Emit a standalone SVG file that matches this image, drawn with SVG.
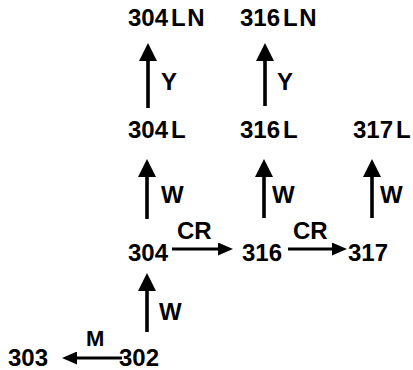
<svg xmlns="http://www.w3.org/2000/svg" width="413" height="370" viewBox="0 0 413 370">
<defs>
<style>
text{font-family:"Liberation Sans",Arial,sans-serif;font-weight:bold;font-size:24px;fill:#000}
.lbl{font-size:24px}
.m{font-size:22px}
.sfx{letter-spacing:1.5px}
.v{stroke:#000;stroke-width:3.6;fill:none}
.h{stroke:#000;stroke-width:3;fill:none}
</style>
<marker id="hv" markerUnits="userSpaceOnUse" markerWidth="18" markerHeight="18" refX="1" refY="9" orient="auto"><path d="M0,0 L18,9 L0,18 z" fill="#000"/></marker>
<marker id="hh" markerUnits="userSpaceOnUse" markerWidth="15" markerHeight="13" refX="1" refY="6.5" orient="auto"><path d="M0,0 L15,6.5 L0,13 z" fill="#000"/></marker>
</defs>
<rect width="413" height="370" fill="#fff"/>
<g id="connectors">
<line class="v" x1="148" y1="108" x2="148" y2="60" marker-end="url(#hv)"/>
<line class="v" x1="265" y1="106" x2="265" y2="60" marker-end="url(#hv)"/>
<line class="v" x1="147" y1="219" x2="147" y2="176" marker-end="url(#hv)"/>
<line class="v" x1="264" y1="218" x2="264" y2="176" marker-end="url(#hv)"/>
<line class="v" x1="372" y1="218" x2="372" y2="176" marker-end="url(#hv)"/>
<line class="v" x1="147" y1="332" x2="147" y2="290" marker-end="url(#hv)"/>
<line class="h" x1="172" y1="249" x2="219" y2="249" marker-end="url(#hh)"/>
<line class="h" x1="288" y1="249" x2="333" y2="249" marker-end="url(#hh)"/>
<line class="h" x1="122" y1="358" x2="76" y2="358" marker-end="url(#hh)"/>
<text class="lbl" x="161" y="90">Y</text>
<text class="lbl" x="277" y="90">Y</text>
<text class="lbl" x="161" y="203">W</text>
<text class="lbl" x="272" y="203">W</text>
<text class="lbl" x="380" y="203">W</text>
<text class="lbl" x="159" y="320">W</text>
<text class="lbl" x="177" y="239">CR</text>
<text class="lbl" x="293" y="239">CR</text>
<text class="m" x="86" y="346">M</text>
</g>
<g id="n304LN"><text x="128" y="26">304<tspan class="sfx" dx="3">LN</tspan></text></g>
<g id="n316LN"><text x="240" y="26">316<tspan class="sfx" dx="3">LN</tspan></text></g>
<g id="n304L"><text x="128" y="138">304<tspan dx="3">L</tspan></text></g>
<g id="n316L"><text x="240" y="138">316<tspan dx="3">L</tspan></text></g>
<g id="n317L"><text x="353" y="138">317<tspan dx="3">L</tspan></text></g>
<g id="n304"><text x="128" y="261">304</text></g>
<g id="n316"><text x="242" y="261">316</text></g>
<g id="n317"><text x="348" y="261">317</text></g>
<g id="n302"><text x="119" y="366">302</text></g>
<g id="n303"><text x="8" y="366">303</text></g>
</svg>
